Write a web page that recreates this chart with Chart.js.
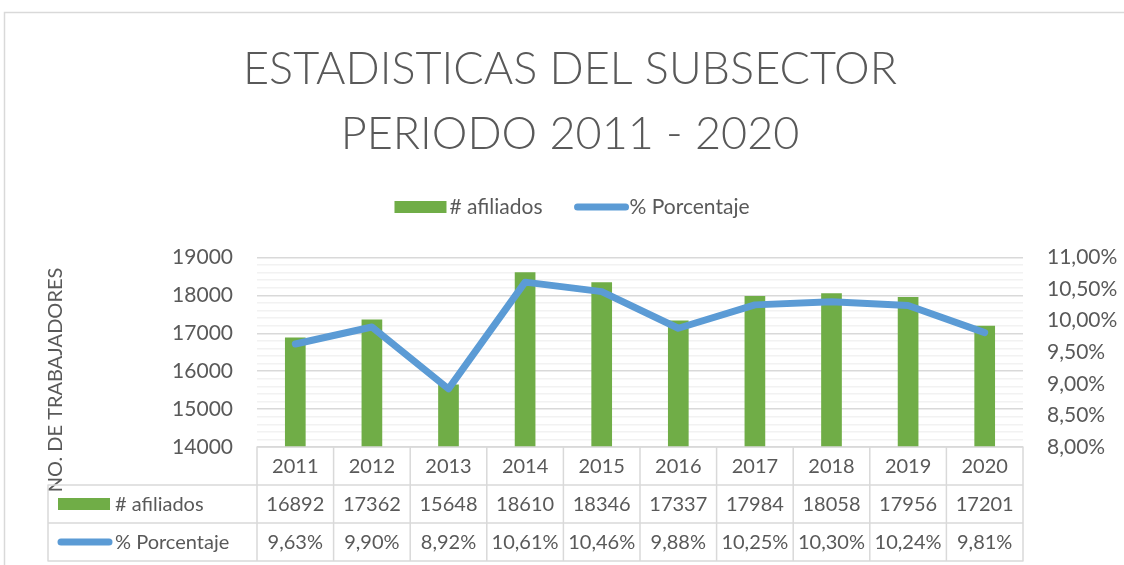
<!DOCTYPE html>
<html>
<head>
<meta charset="utf-8">
<script src="https://cdn.jsdelivr.net/npm/chart.js@4.4.1/dist/chart.umd.min.js"></script>
<style>
    body { margin: 0; background: #ffffff; }
</style>
</head>
<body>
<canvas id="subsectorGraph" width="1124" height="565"></canvas>
<script>
// data
const years = ['2011', '2012', '2013', '2014', '2015', '2016', '2017', '2018', '2019', '2020'];
const afiliados = [16892, 17362, 15648, 18610, 18346, 17337, 17984, 18058, 17956, 17201];
const porcentaje = [9.63, 9.90, 8.92, 10.61, 10.46, 9.88, 10.25, 10.30, 10.24, 9.81];
const titleLines = ['ESTADISTICAS DEL SUBSECTOR', 'PERIODO 2011 - 2020'];
const yTitle = 'NO. DE TRABAJADORES';

const textColor = '#595959';
const green = '#70AD47';
const blue = '#5B9BD5';
const fontFamily = 'Lato, "Open Sans", sans-serif';

function formatPct(v) {
    return v.toFixed(2).replace('.', ',') + '%';
}

// white background and the thin frame around the chart
const frame = {
    id: 'frame',
    beforeDraw(chart) {
        const c = chart.ctx;
        c.save();
        c.fillStyle = '#ffffff';
        c.fillRect(0, 0, chart.width, chart.height);
        c.strokeStyle = '#d9d9d9';
        c.lineWidth = 1.5;
        c.strokeRect(4.5, 12.5, chart.width + 10, chart.height + 10);
        c.restore();
    }
};

function drawKey(c, ds, x, y) {
    if (ds.type === 'line') {
        c.strokeStyle = ds.borderColor;
        c.lineWidth = 7;
        c.lineCap = 'round';
        c.beginPath();
        c.moveTo(x + 3, y);
        c.lineTo(x + 51, y);
        c.stroke();
    } else {
        c.fillStyle = ds.backgroundColor;
        c.fillRect(x, y - 6, 52, 12);
    }
}

// legend, y title and the data table under the plot
const extras = {
    id: 'extras',
    afterDraw(chart) {
        const c = chart.ctx;
        const area = chart.chartArea;
        const xScale = chart.scales.x;
        const sets = chart.data.datasets;
        c.save();
        c.font = '21px ' + fontFamily;
        c.textBaseline = 'middle';

        // legend on top
        const gap = 32;
        const widths = sets.map((ds) => 55 + c.measureText(ds.label).width);
        const total = widths.reduce((a, b) => a + b, 0) + gap;
        let lx = 572 - total / 2;
        const ly = 207;
        sets.forEach((ds, i) => {
            drawKey(c, ds, lx, ly);
            c.fillStyle = textColor;
            c.textAlign = 'left';
            c.fillText(ds.label, lx + 55, ly);
            lx += widths[i] + gap;
        });

        // rotated axis title
        c.save();
        c.translate(56, 380);
        c.rotate(-Math.PI / 2);
        c.textAlign = 'center';
        c.fillStyle = textColor;
        c.font = '20px ' + fontFamily;
        c.fillText(yTitle, 0, 0);
        c.restore();

        // data table
        const rowH = 38;
        const top = area.bottom;
        const colW = (area.right - area.left) / years.length;
        const leftX = 48;
        c.strokeStyle = '#d9d9d9';
        c.lineWidth = 1.5;
        c.beginPath();
        // horizontal lines
        c.moveTo(area.left, top); c.lineTo(area.right, top);
        for (let r = 1; r <= 3; r++) {
            c.moveTo(leftX, top + r * rowH);
            c.lineTo(area.right, top + r * rowH);
        }
        // vertical lines
        c.moveTo(leftX, top + rowH); c.lineTo(leftX, top + 3 * rowH);
        for (let i = 0; i <= years.length; i++) {
            const vx = area.left + i * colW;
            c.moveTo(vx, top); c.lineTo(vx, top + 3 * rowH);
        }
        c.stroke();

        c.fillStyle = textColor;
        c.textAlign = 'center';
        c.font = '20px ' + fontFamily;
        years.forEach((yr, i) => {
            const cx = xScale.getPixelForValue(i);
            c.fillText(yr, cx, top + rowH / 2 + 1);
            c.fillText(String(afiliados[i]), cx, top + rowH * 1.5 + 1);
            c.fillText(formatPct(porcentaje[i]), cx, top + rowH * 2.5 + 1);
        });

        // row headers with legend keys
        sets.forEach((ds, r) => {
            const cy = top + rowH * (r + 1.5);
            drawKey(c, ds, 58, cy);
            c.fillStyle = textColor;
            c.textAlign = 'left';
            c.fillText(ds.label, 115, cy + 1);
        });
        c.restore();
    }
};

const ctx = document.getElementById('subsectorGraph').getContext('2d');

const data = {
    labels: years,
    datasets: [
        {
            type: 'bar',
            label: '# afiliados',
            data: afiliados,
            backgroundColor: green,
            borderWidth: 0,
            barPercentage: 0.54,
            categoryPercentage: 0.5,
            yAxisID: 'y',
            order: 1
        }, {
            type: 'line',
            label: '% Porcentaje',
            data: porcentaje,
            borderColor: blue,
            backgroundColor: blue,
            borderWidth: 7,
            borderCapStyle: 'round',
            borderJoinStyle: 'round',
            pointRadius: 0,
            tension: 0,
            fill: false,
            yAxisID: 'y1',
            order: 0
        }
    ]
};

const options = {
    responsive: false,
    animation: false,
    layout: {
        padding: { left: 16, right: 0, top: 0, bottom: 118 }
    },
    plugins: {
        legend: { display: false },
        tooltip: { enabled: false },
        title: {
            display: true,
            text: titleLines,
            color: textColor,
            font: { family: fontFamily, size: 45, weight: '300', lineHeight: 1.45 },
            padding: { top: 37, bottom: 90 }
        }
    },
    scales: {
        x: {
            display: false
        },
        y: {
            position: 'left',
            min: 14000,
            max: 19000,
            border: { display: false },
            grid: {
                drawTicks: false,
                lineWidth: 1.5,
                color: (c) => (c.tick && c.tick.value % 1000 === 0) ? '#d9d9d9' : '#f2f2f2'
            },
            ticks: {
                stepSize: 200,
                autoSkip: false,
                padding: 24,
                color: textColor,
                font: { family: fontFamily, size: 21 },
                callback: function (value) {
                    return value % 1000 === 0 ? value : '';
                }
            },
            afterFit: function (scale) { scale.width = 241; }
        },
        y1: {
            position: 'right',
            min: 8,
            max: 11,
            border: { display: false },
            grid: { drawOnChartArea: false, drawTicks: false },
            ticks: {
                stepSize: 0.5,
                autoSkip: false,
                padding: 24,
                color: textColor,
                font: { family: fontFamily, size: 21 },
                callback: function (value) {
                    return formatPct(value);
                }
            },
            afterFit: function (scale) { scale.width = 101; }
        }
    }
};

new Chart(ctx, {
    type: 'bar',
    data: data,
    options: options,
    plugins: [frame, extras]
});
</script>
</body>
</html>
